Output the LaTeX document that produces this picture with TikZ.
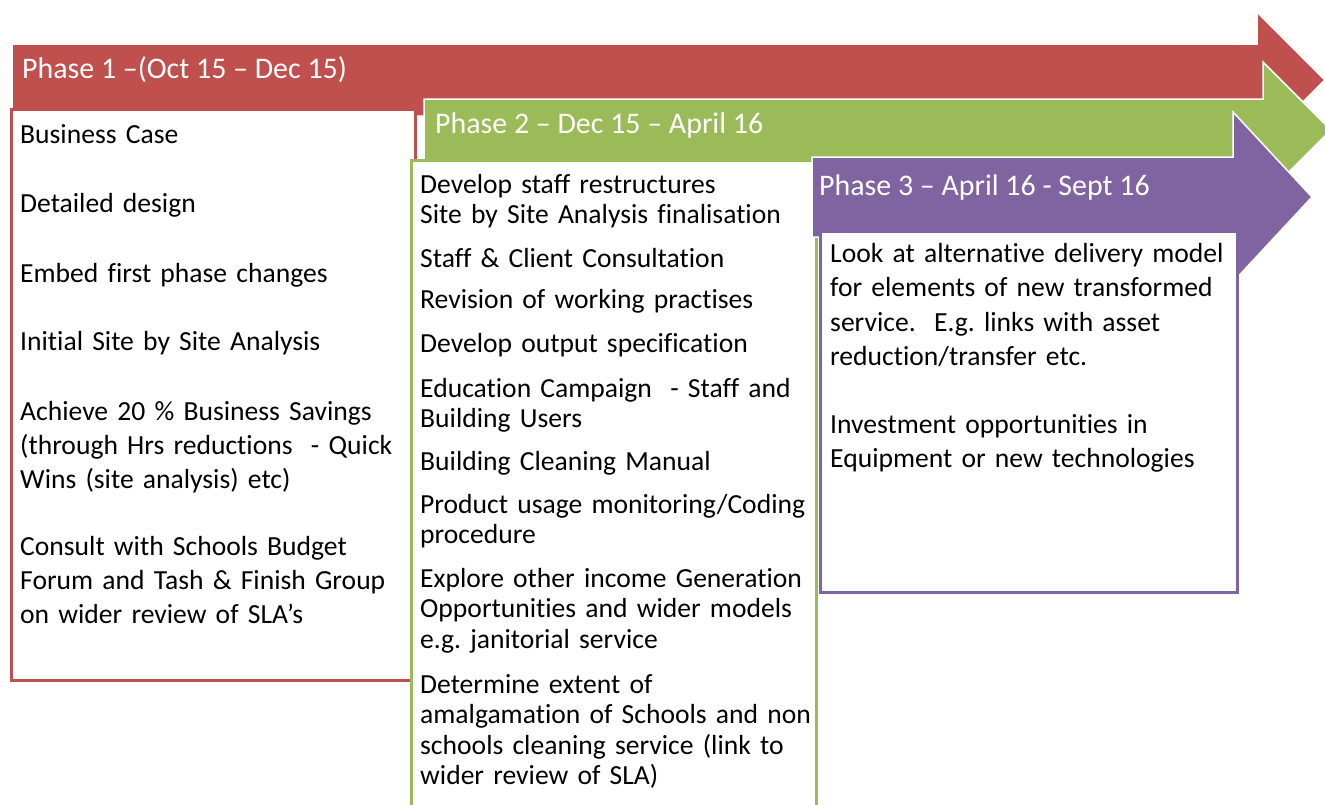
\documentclass[tikz,border=0pt]{standalone}
\usepackage{fontspec}
\setmainfont{Carlito}[Ligatures=NoCommon]
\frenchspacing
\definecolor{phaseone}{HTML}{C0504D}
\definecolor{phasetwo}{HTML}{9BBB59}
\definecolor{phasethree}{HTML}{8064A2}
\begin{document}
\begin{tikzpicture}[x=1pt,y=-1pt,
  band/.style={draw=white,line width=1.5pt,line join=miter},
  frame/.style={fill=white,line width=3pt},
  head/.style={text=white,anchor=base west,inner sep=0pt,font=\fontsize{29.9}{36}\selectfont},
  item/.style={anchor=base west,inner sep=0pt,text width=450pt,align=left,font=\fontsize{27.6}{#1}\selectfont}]
\path[use as bounding box,fill=white] (0,0) rectangle (1325,804);
%
% phase 1: Oct - Dec
\draw[band,fill=phaseone] (12,44) -- (1257,44) -- (1257,12) -- (1325,80)
  -- (1257,148) -- (1257,116) -- (12,116) -- cycle;
\node[head] (ph1) at (22,78) {Phase 1 –(Oct 15 – Dec 15)};
\draw[frame,draw=phaseone] (11,109) rectangle (415,680);
\foreach \y/\txt [count=\i] in {143/Business Case, 212/Detailed design,
  282/Embed first phase changes, 350/Initial Site by Site Analysis,
  420/{Achieve 20 \% Business Savings\\(through Hrs reductions~ - Quick\\Wins (site analysis) etc)},
  555/{Consult with Schools Budget\\Forum and Tash \& Finish Group\\on wider review of SLA’s}}
\node[item=34] (p1-\i) at (20,\y) {\txt};
%
% phase 2: Dec - April
\draw[band,fill=phasetwo] (424,99) -- (1263,99) -- (1263,62) -- (1331,130)
  -- (1263,198) -- (1263,161) -- (424,161) -- cycle;
\node[head] (ph2) at (435,133) {Phase 2 – Dec 15 – April 16};
\draw[frame,draw=phasetwo] (411,160) rectangle (816,830);
\foreach \y/\txt [count=\i] in {193/{Develop staff restructures\\Site by Site Analysis finalisation},
  267/Staff \& Client Consultation, 308/Revision of working practises,
  352/Develop output specification,
  397/{Education Campaign~ - Staff and\\Building Users},
  470/Building Cleaning Manual,
  513/{Product usage monitoring/Coding\\procedure},
  587/{Explore other income Generation\\Opportunities and wider models\\e.g. janitorial service},
  693/{Determine extent of\\amalgamation of Schools and non\\schools cleaning service (link to\\wider review of SLA)}}
\node[item=30.5] (p2-\i) at (420,\y) {\txt};
%
% phase 3: April - Sept
\draw[band,fill=phasethree] (812,157) -- (1233,157) -- (1233,112) -- (1312,197)
  -- (1233,282) -- (1233,237) -- (812,237) -- cycle;
\node[head] (ph3) at (819,195) {Phase 3 – April 16 - Sept 16};
\draw[frame,draw=phasethree] (820,231) rectangle (1237,592);
\foreach \y/\txt [count=\i] in {262/{Look at alternative delivery model\\for elements of new transformed\\service.~ E.g. links with asset\\reduction/transfer etc.},
  433/{Investment opportunities in\\Equipment or new technologies}}
\node[item=34.5] (p3-\i) at (830,\y) {\txt};
\end{tikzpicture}
\end{document}
